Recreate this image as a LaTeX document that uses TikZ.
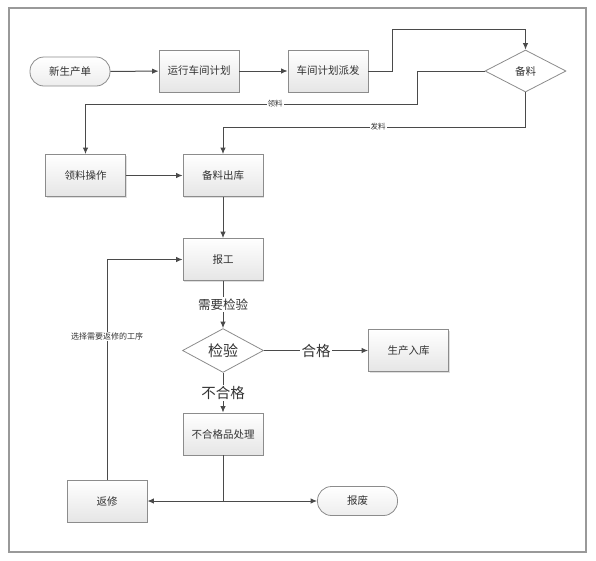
\documentclass[tikz,border=0pt]{standalone}
\usepackage{fontspec}
\newfontfamily\cjk{Noto Sans CJK SC}
\usetikzlibrary{shapes.geometric,arrows.meta,shadows}
\definecolor{linec}{HTML}{4A4A4A}
\definecolor{txtc}{HTML}{333333}
\definecolor{bordc}{HTML}{8C8C8C}
\tikzset{
  box/.style={draw=bordc, line width=0.8, top color=white, bottom color=gray!20,
    minimum width=80, minimum height=42, inner sep=0, text=txtc,
    drop shadow={shadow xshift=1.2pt, shadow yshift=-1.2pt, opacity=0.25}},
  term/.style={draw=bordc, line width=0.8, top color=white, bottom color=gray!14,
    rounded corners=14, minimum width=80, minimum height=29, inner sep=0, text=txtc},
  diam/.style={diamond, draw=bordc, line width=0.8, fill=white, inner sep=0,
    minimum width=81, minimum height=42, text=txtc},
  arr/.style={draw=linec, line width=1.0, -{Latex[length=6.5pt,width=5.5pt]}},
  ln/.style={draw=linec, line width=1.0},
  small/.style={fill=white, inner sep=1, text=txtc, font=\cjk\fontsize{7.5}{9}\selectfont},
  big/.style={fill=white, inner sep=1.5, text=txtc, font=\cjk\fontsize{14.5}{16}\selectfont},
}
\begin{document}
\begin{tikzpicture}[x=1pt,y=-1pt, font=\cjk\fontsize{10.5}{12}\selectfont]
\useasboundingbox (0,0) rectangle (596,560);
\draw[draw=gray!80, line width=1.2] (9,8) rectangle (586,552);

\node[term] (new) at (70,71.5) {新生产单};
\node[box] (plan) at (199,71) {运行车间计划};
\node[box] (disp) at (328,71) {车间计划派发};
\node[diam] (bl) at (525.5,71) {备料};
\node[box] (llcz) at (85.5,175.5) {领料操作};
\node[box] (blck) at (223,175.5) {备料出库};
\node[box] (bg) at (223,259.5) {报工};
\node[diam, font=\cjk\fontsize{15}{17}\selectfont] (jy) at (223,350.5) {检验};
\node[box] (scrk) at (408.5,350.5) {生产入库};
\node[box] (bhg) at (223,434) {不合格品处理};
\node[box] (fx) at (107,501) {返修};
\node[term] (bf) at (357.5,501) {报废};
\coordinate (j) at (223,501);

\draw[arr] (new) -- (plan);
\draw[arr] (plan) -- (disp);
\draw[arr] (disp.east) -| (392,29) -| (bl.north);
\draw[arr] (bl.west) -- (417,71) -- (417,104) -- node[pos=0.428, small] {领料} (85.5,104) -- (llcz.north);
\draw[arr] (bl.south) -- (525.5,127) -- node[pos=0.487, small] {发料} (223,127) -- (blck.north);
\draw[arr] (llcz) -- (blck);
\draw[arr] (blck) -- (bg);
\draw[arr] (bg) -- node[big, font=\cjk\fontsize{12.5}{14}\selectfont] {需要检验} (jy);
\draw[arr] (jy) -- node[big] {合格} (scrk);
\draw[arr] (jy) -- node[big] {不合格} (bhg);
\draw[ln] (bhg) -- (j);
\draw[arr] (j) -- (fx);
\draw[arr] (j) -- (bf);
\draw[arr] (fx.north) |- node[pos=0.325, small, font=\cjk\fontsize{8}{9}\selectfont] {选择需要返修的工序} (bg.west);
\end{tikzpicture}
\end{document}
